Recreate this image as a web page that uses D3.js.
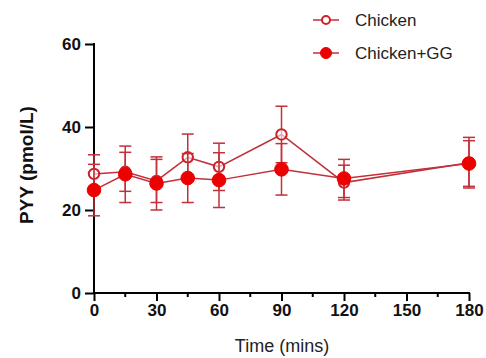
<!DOCTYPE html>
<html>
<head>
<meta charset="utf-8">
<script src="https://cdn.jsdelivr.net/npm/d3@7"></script>
<style>
  body { margin: 0; background: #fff; }
  svg { font-family: Arial, "Liberation Sans", sans-serif; }
</style>
</head>
<body>
<div id="app"></div>
<script>
const times = [0, 15, 30, 45, 60, 90, 120, 180];
const chicken = [28.7, 29.2, 27.0, 32.7, 30.4, 38.2, 26.6, 31.4];
const chickenErr = [4.6, 4.7, 5.2, 5.6, 5.7, 6.8, 4.2, 6.1];
const chickenGG = [24.8, 28.6, 26.4, 27.7, 27.2, 29.8, 27.6, 31.2];
const chickenGGErr = [6.2, 6.8, 6.4, 5.9, 6.6, 6.2, 4.6, 5.5];
const xTicks = [0, 30, 60, 90, 120, 150, 180];
const yTicks = [0, 20, 40, 60];

const width = 486, height = 358;
const red = "#ec0000", lineRed = "#c2303a";

let svg = d3.select("#app").append("svg")
  .attr("width", width).attr("height", height);

let x = d3.scaleLinear().domain([0, 180]).range([94, 469]);
let y = d3.scaleLinear().domain([0, 60]).range([293, 44]);

// axes
let xAxis = svg.append("g")
  .attr("transform", `translate(0,${y(0)})`)
  .call(d3.axisBottom(x).tickValues(xTicks).tickSize(8).tickSizeOuter(0).tickPadding(3));
svg.append("g")
  .attr("transform", `translate(0,${y(0)})`)
  .selectAll("line")
  .data(d3.range(15, 180, 30))
  .enter()
  .append("line")
  .attr("x1", d => x(d)).attr("x2", d => x(d))
  .attr("y1", 0).attr("y2", 4)
  .attr("stroke", "#000").attr("stroke-width", 2);

let yAxis = svg.append("g")
  .attr("transform", `translate(${x(0)},0)`)
  .call(d3.axisLeft(y).tickValues(yTicks).tickSize(9).tickSizeOuter(0).tickPadding(4));

[xAxis, yAxis].forEach(a => {
  a.select(".domain").attr("stroke", "#000").attr("stroke-width", 2);
  a.selectAll(".tick line").attr("stroke", "#000").attr("stroke-width", 2);
  a.selectAll(".tick text")
    .attr("fill", "#111")
    .style("font-size", "17px")
    .style("font-weight", "bold");
});
xAxis.select(".domain").attr("d", `M${x(0) - 1},0H${x(180) + 1}`);
yAxis.select(".domain").attr("d", `M0,${y(60) - 1}V${y(0) + 1}`);

svg.append("text")
  .attr("x", 282)
  .attr("y", 352)
  .attr("text-anchor", "middle")
  .attr("fill", "#222")
  .style("font-size", "18px")
  .text("Time (mins)");

svg.append("text")
  .attr("transform", `translate(33,165) rotate(-90)`)
  .attr("text-anchor", "middle")
  .attr("fill", "#111")
  .style("font-size", "19px")
  .style("font-weight", "bold")
  .text("PYY (pmol/L)");

// series
const series = [
  { name: "Chicken", values: chicken, err: chickenErr, filled: false },
  { name: "Chicken+GG", values: chickenGG, err: chickenGGErr, filled: true }
];

let line = d3.line().x((d, i) => x(times[i])).y(d => y(d));

series.forEach(s => {
  let g = svg.append("g");
  g.append("path")
    .attr("d", line(s.values))
    .attr("fill", "none")
    .attr("stroke", lineRed)
    .attr("stroke-width", 1.5);

  let eb = g.selectAll(".eb").data(s.values).enter().append("g");
  eb.append("line")
    .attr("x1", (d, i) => x(times[i])).attr("x2", (d, i) => x(times[i]))
    .attr("y1", (d, i) => y(d + s.err[i])).attr("y2", (d, i) => y(d - s.err[i]))
    .attr("stroke", lineRed).attr("stroke-width", 1.5);
  [1, -1].forEach(sign => {
    eb.append("line")
      .attr("x1", (d, i) => x(times[i]) - 6).attr("x2", (d, i) => x(times[i]) + 6)
      .attr("y1", (d, i) => y(d + sign * s.err[i])).attr("y2", (d, i) => y(d + sign * s.err[i]))
      .attr("stroke", lineRed).attr("stroke-width", 1.5);
  });

  g.selectAll("circle").data(s.values).enter().append("circle")
    .attr("cx", (d, i) => x(times[i]))
    .attr("cy", d => y(d))
    .attr("r", s.filled ? 6.8 : 5.2)
    .attr("fill", s.filled ? red : "#fff")
    .attr("fill-opacity", s.filled ? 1 : 0.6)
    .attr("stroke", s.filled ? red : "#d01f2a")
    .attr("stroke-width", s.filled ? 1 : 2);
});

// legend
let legend = svg.append("g").selectAll("g").data(series).enter().append("g")
  .attr("transform", (d, i) => `translate(0,${20 + i * 33})`);
legend.append("line")
  .attr("x1", 313).attr("x2", 339)
  .attr("stroke", lineRed).attr("stroke-width", 1.5);
legend.append("circle")
  .attr("cx", 326)
  .attr("r", d => d.filled ? 5.5 : 4)
  .attr("fill", d => d.filled ? red : "#fff")
  .attr("stroke", d => d.filled ? red : "#d01f2a")
  .attr("stroke-width", d => d.filled ? 1 : 2);
legend.append("text")
  .attr("x", 355)
  .attr("dy", "0.35em")
  .style("font-size", "17px")
  .attr("fill", "#222")
  .text(d => d.name);
</script>
</body>
</html>
